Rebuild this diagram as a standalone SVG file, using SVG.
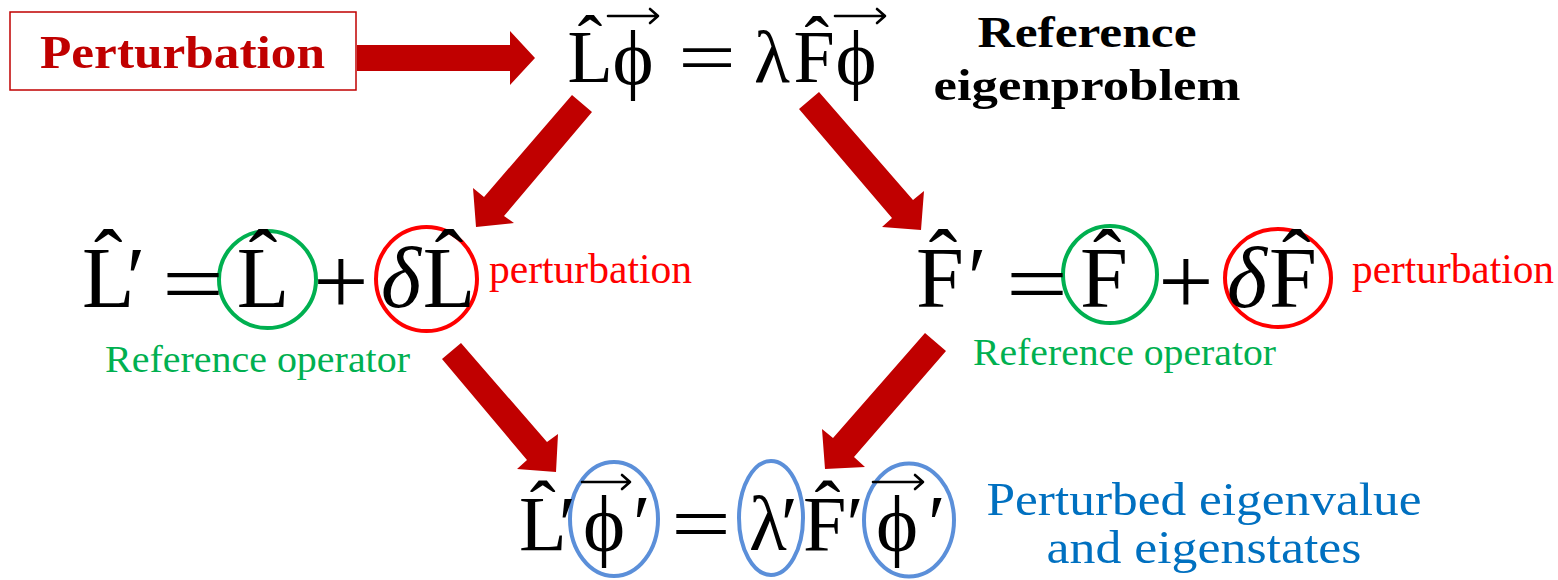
<svg xmlns="http://www.w3.org/2000/svg" width="1558" height="580" viewBox="0 0 1558 580">
<defs>
<style>
.m{font-family:"Liberation Serif","DejaVu Serif",serif;fill:#000;text-anchor:middle}
.s{font-family:"Liberation Serif","DejaVu Serif",serif;fill:#000}
.t1{font-size:74px}
.t2{font-size:86px}
.t3{font-size:78px}
.it{font-style:italic}
.arr{fill:#C00000}
.vec{fill:none;stroke:#000;stroke-width:2.6;stroke-linecap:round;stroke-linejoin:round}
.gr{fill:none;stroke:#00B050;stroke-width:4}
.rd{fill:none;stroke:#FF0000;stroke-width:4}
.bl{fill:none;stroke:#5B8FD9;stroke-width:4}
.lbl{font-family:"Liberation Serif","DejaVu Serif",serif}
</style>
</defs>
<rect width="1558" height="580" fill="#fff"/>

<g id="connectors">
<polygon class="arr" points="357,45 510,45 510,31 535,58 510,85 510,71 357,71"/>
<polygon class="arr" points="572,95 592,112 504,216 514,223 476,227 473,188 484,197"/>
<polygon class="arr" points="819,92 913,200 924,191 921,230 882,227 892,218 799,109"/>
<polygon class="arr" points="461,343 547,442 558,434 556,472 517,469 527,460 442,359"/>
<polygon class="arr" points="925,333 946,351 854,457 865,467 825,469 822,429 833,438"/>
</g>

<g id="perturbation-box">
<rect x="10" y="12" width="346" height="78" fill="#fff" stroke="#C00000" stroke-width="1.5"/>
<text class="lbl" x="40" y="68" font-size="46" font-weight="bold" fill="#C00000" textLength="285" lengthAdjust="spacingAndGlyphs">Perturbation</text>
</g>

<g id="reference-eigenproblem">
<text class="m t1" x="590" y="82">L̂</text>
<text class="m" x="633" y="84" font-size="78">ϕ</text>
<text class="m t1" x="707" y="82" textLength="58" lengthAdjust="spacingAndGlyphs">=</text>
<text class="m t1" x="772" y="82">λ</text>
<text class="m t1" x="814" y="82">F̂</text>
<text class="m" x="856" y="84" font-size="78">ϕ</text>
<path class="vec" d="M608,16 H658 M650,9 L658,16 L650,23"/>
<path class="vec" d="M835,16 H885 M877,9 L885,16 L877,23"/>
</g>

<g id="reference-label">
<text class="lbl" x="1087" y="47" font-size="44" font-weight="bold" text-anchor="middle" textLength="219" lengthAdjust="spacingAndGlyphs">Reference</text>
<text class="lbl" x="1087" y="100" font-size="44" font-weight="bold" text-anchor="middle" textLength="307" lengthAdjust="spacingAndGlyphs">eigenproblem</text>
</g>

<g id="L-perturbed">
<ellipse class="gr" cx="267.5" cy="279.5" rx="48.5" ry="48.5"/>
<ellipse class="rd" cx="426.5" cy="279" rx="50.5" ry="52"/>
<text class="s t2" x="82" y="307" letter-spacing="-8">L̂′</text>
<text class="m t2" x="193" y="313" textLength="62" lengthAdjust="spacingAndGlyphs">=</text>
<text class="m t2" x="263" y="307">L̂</text>
<text class="m" x="341" y="314" font-size="98">+</text>
<text class="m t2 it" x="401" y="307">δ</text>
<text class="m t2" x="449" y="307">L̂</text>
<text class="lbl" x="489" y="283" font-size="42" fill="#FF0000" textLength="203" lengthAdjust="spacingAndGlyphs">perturbation</text>
<text class="lbl" x="105" y="372" font-size="38" fill="#00B050" textLength="305" lengthAdjust="spacingAndGlyphs">Reference operator</text>
</g>

<g id="F-perturbed">
<ellipse class="gr" cx="1110" cy="274.5" rx="47" ry="48.5"/>
<ellipse class="rd" cx="1278" cy="278" rx="53" ry="49"/>
<text class="s t2" x="916" y="307" letter-spacing="4">F̂′</text>
<text class="m t2" x="1037" y="313" textLength="62" lengthAdjust="spacingAndGlyphs">=</text>
<text class="m t2" x="1104" y="307">F̂</text>
<text class="m" x="1186" y="314" font-size="98">+</text>
<text class="m t2 it" x="1247" y="307">δ</text>
<text class="m t2" x="1293" y="307">F̂</text>
<text class="lbl" x="1352" y="283" font-size="42" fill="#FF0000" textLength="202" lengthAdjust="spacingAndGlyphs">perturbation</text>
<text class="lbl" x="973" y="365" font-size="38" fill="#00B050" textLength="303" lengthAdjust="spacingAndGlyphs">Reference operator</text>
</g>

<g id="perturbed-eigenproblem">
<ellipse class="bl" cx="614" cy="519" rx="44" ry="57"/>
<ellipse class="bl" cx="771" cy="518" rx="32" ry="57"/>
<ellipse class="bl" cx="909" cy="520" rx="45" ry="56.5"/>
<text class="s t3" x="519" y="550" letter-spacing="-8">L̂′</text>
<text class="s" x="583" y="551" font-size="80" letter-spacing="8">ϕ′</text>
<text class="m t3" x="701" y="550" textLength="60" lengthAdjust="spacingAndGlyphs">=</text>
<text class="s t3" x="749" y="550" letter-spacing="-6">λ′</text>
<text class="s t3" x="803" y="550" letter-spacing="0">F̂′</text>
<text class="s" x="876" y="551" font-size="80" letter-spacing="10">ϕ′</text>
<path class="vec" d="M582,482 H630 M622,475 L630,482 L622,489"/>
<path class="vec" d="M873,482 H923 M915,475 L923,482 L915,489"/>
</g>

<g id="perturbed-label">
<text class="lbl" x="1204" y="515" font-size="46" fill="#0070C0" text-anchor="middle" textLength="435" lengthAdjust="spacingAndGlyphs">Perturbed eigenvalue</text>
<text class="lbl" x="1204" y="563" font-size="46" fill="#0070C0" text-anchor="middle" textLength="315" lengthAdjust="spacingAndGlyphs">and eigenstates</text>
</g>
</svg>
